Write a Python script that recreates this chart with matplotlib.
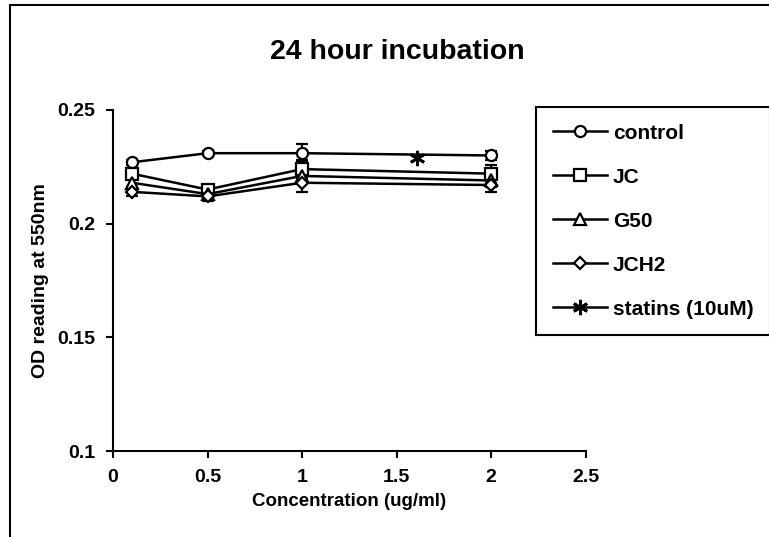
import matplotlib.pyplot as plt
from matplotlib.patches import Rectangle
from matplotlib.lines import Line2D
from matplotlib.ticker import FuncFormatter

plt.rcParams['font.family'] = ['Liberation Sans', 'DejaVu Sans']

# Datos
concentracion = [0.1, 0.5, 1, 2]
control = [0.227, 0.231, 0.231, 0.230]
jc = [0.222, 0.215, 0.224, 0.222]
g50 = [0.218, 0.213, 0.221, 0.219]
jch2 = [0.214, 0.212, 0.218, 0.217]
err_control = [0.001, 0.001, 0.004, 0.002]
err_jc = [0.002, 0.002, 0.004, 0.004]
err_g50 = [0.002, 0.002, 0.003, 0.003]
err_jch2 = [0.002, 0.002, 0.004, 0.003]
statins_x = [1.61]
statins_y = [0.229]

x_ticks = [0, 0.5, 1, 1.5, 2, 2.5]
y_ticks = [0.1, 0.15, 0.2, 0.25]

fig = plt.figure(figsize=(7.69, 5.37), dpi=100)
ax = fig.add_axes([113/769, 1 - 451/537, (585.5 - 113)/769, (451 - 110)/537])

# Marco exterior del grafico (derecha y abajo quedan fuera de la imagen)
fig.patches.append(Rectangle((10/769, -0.2), 1.2, 1.2 - 5/537,
                             transform=fig.transFigure, fill=False,
                             edgecolor='black', linewidth=1.5))

estilo = dict(color='black', linewidth=1.8, markerfacecolor='white',
              markeredgecolor='black', markeredgewidth=1.6)

series = [
    (control, err_control, 'o', 'control'),
    (jc, err_jc, 's', 'JC'),
    (g50, err_g50, '^', 'G50'),
    (jch2, err_jch2, 'D', 'JCH2'),
]
handles = []
for valores, errores, marca, nombre in series:
    ms = 6 if marca == 'D' else 8
    ax.errorbar(concentracion, valores, yerr=errores, marker=marca, markersize=ms,
                capsize=4, elinewidth=1.5, **estilo)
    handles.append(Line2D([], [], marker=marca, markersize=ms, label=nombre, **estilo))

ax.plot(statins_x, statins_y, color='black', linewidth=1.8, marker=(6, 2, 0),
        markersize=11, markeredgewidth=2)
handles.append(Line2D([], [], color='black', linewidth=1.8, marker=(6, 2, 0),
                      markersize=11, markeredgewidth=2, label='statins (10uM)'))

ax.set_xlim(0, 2.5)
ax.set_ylim(0.1, 0.25)
ax.set_xticks(x_ticks)
ax.set_yticks(y_ticks)
fmt = FuncFormatter(lambda v, p: f"{v:g}")
ax.xaxis.set_major_formatter(fmt)
ax.yaxis.set_major_formatter(fmt)
ax.spines['top'].set_visible(False)
ax.spines['right'].set_visible(False)
ax.spines['left'].set_linewidth(1.5)
ax.spines['bottom'].set_linewidth(1.5)
ax.tick_params(direction='out', length=5, width=1.5, labelsize=14, pad=8)
for lbl in ax.get_xticklabels() + ax.get_yticklabels():
    lbl.set_fontweight('bold')

ax.set_xlabel("Concentration (ug/ml)", fontsize=13.5, fontweight='bold', labelpad=5)
ax.set_ylabel("OD reading at 550nm", fontsize=14, fontweight='bold', labelpad=6)
fig.text(397/769, 1 - 52/537, "24 hour incubation", ha='center', va='center',
         fontsize=20.5, fontweight='bold')

leg = fig.legend(handles=handles, loc='upper left', bbox_to_anchor=(536/769, 1 - 107/537),
                 borderaxespad=0, frameon=True, fancybox=False, edgecolor='black',
                 framealpha=1, labelspacing=1.2, handlelength=2.6, handletextpad=0.3,
                 borderpad=0.8, prop={'weight': 'bold', 'size': 15})
leg.get_frame().set_linewidth(1.5)

fig.savefig("out.png", dpi=100)
